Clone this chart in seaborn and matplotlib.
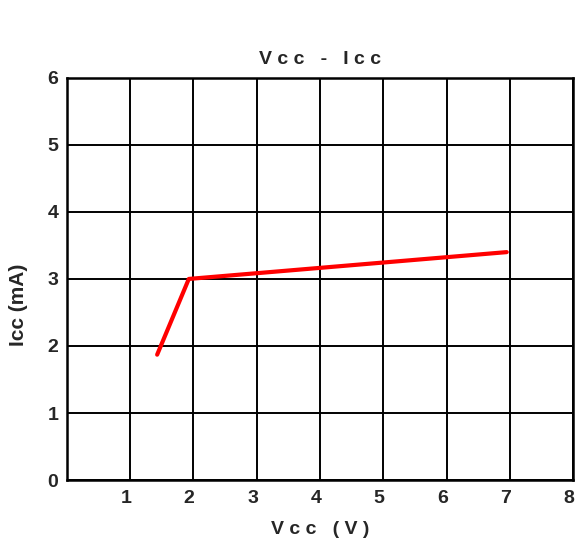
import matplotlib
matplotlib.use('Agg')
import matplotlib.pyplot as plt
import matplotlib.transforms as mtransforms
import seaborn as sns
import pandas as pd

# Values
vcc = [1.43, 1.93, 6.95]
icc = [1.87, 3.0, 3.4]
x_ticks = [1, 2, 3, 4, 5, 6, 7, 8]
y_ticks = [0, 1, 2, 3, 4, 5, 6]

df = pd.DataFrame({'Vcc': vcc, 'Icc': icc})

sns.set_style('white')
plt.rcParams['font.family'] = ['Liberation Sans', 'DejaVu Sans']

fig = plt.figure(figsize=(5.79, 5.48), dpi=100)
ax = fig.add_axes([0.115, 0.124, 0.875, 0.734])

sns.lineplot(x='Vcc', y='Icc', data=df, color='#ff0000', linewidth=3, ax=ax,
             zorder=3)

ax.set_xlim(0, 8)
ax.set_ylim(0, 6)
ax.set_xticks(x_ticks)
ax.set_yticks(y_ticks)
ax.set_xticklabels([str(t) for t in x_ticks], fontsize=14, fontweight='bold')
ax.set_yticklabels([str(t) for t in y_ticks], fontsize=14, fontweight='bold')
ax.tick_params(axis='both', length=0)
ax.tick_params(axis='x', pad=7)
ax.tick_params(axis='y', pad=6)

# x tick labels sit a little left of their grid lines in the reference
shift = mtransforms.ScaledTranslation(-4 / 100, 0, fig.dpi_scale_trans)
for lbl in ax.get_xticklabels():
    lbl.set_transform(lbl.get_transform() + shift)

ax.grid(True, color='black', linewidth=1.4)
for s in ax.spines.values():
    s.set_visible(True)
    s.set_color('black')
    s.set_linewidth(1.8)

ax.set_title('V c c   -   I c c', fontsize=14, fontweight='bold', pad=10)
ax.set_xlabel('V c c   ( V )', fontsize=14, fontweight='bold', labelpad=10)
ax.set_ylabel('Icc (mA)', fontsize=15, fontweight='bold')
ax.yaxis.set_label_coords(-0.077, 0.435)

fig.savefig('out.png', dpi=100)
